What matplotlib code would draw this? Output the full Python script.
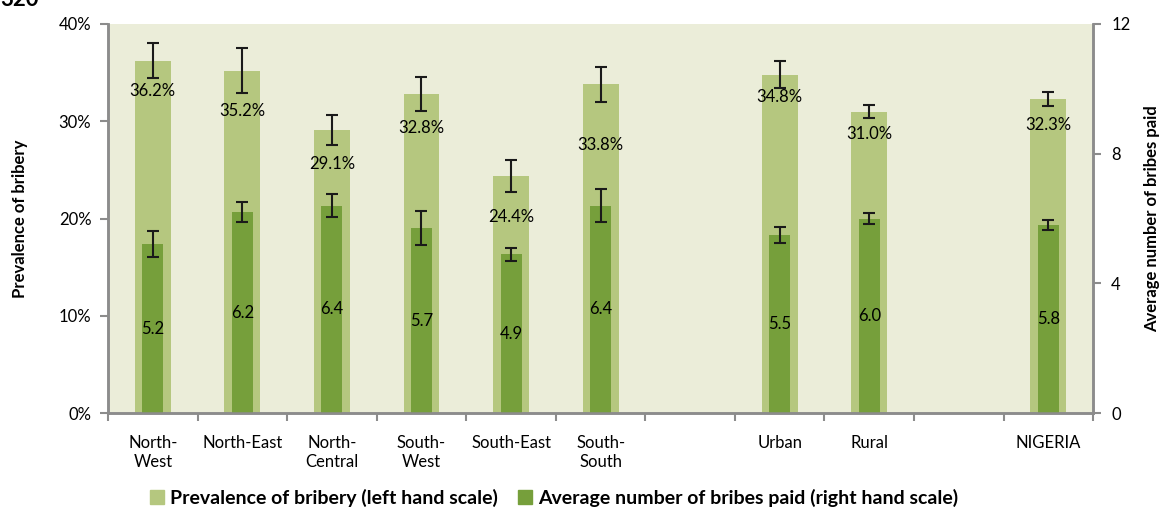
import numpy as np
import matplotlib.pyplot as plt
from matplotlib.patches import Patch

plt.rcParams['font.family'] = ['Lato', 'DejaVu Sans']

# data (blank slots are gaps between groups)
categories = ['North-\nWest', 'North-East', 'North-\nCentral', 'South-\nWest', 'South-East',
              'South-\nSouth', '', 'Urban', 'Rural', '', 'NIGERIA']
prevalence = [36.2, 35.2, 29.1, 32.8, 24.4, 33.8, np.nan, 34.8, 31.0, np.nan, 32.3]
prev_err = [1.8, 2.3, 1.55, 1.7, 1.65, 1.8, np.nan, 1.4, 0.7, np.nan, 0.75]
bribes = [5.2, 6.2, 6.4, 5.7, 4.9, 6.4, np.nan, 5.5, 6.0, np.nan, 5.8]
bribes_err = [0.4, 0.3, 0.35, 0.52, 0.2, 0.5, np.nan, 0.25, 0.17, np.nan, 0.15]
# where the % labels sit (left scale), as in the original
pct_label_y = [33.1, 31.1, 25.6, 29.3, 20.2, 27.6, np.nan, 32.5, 28.7, np.nan, 29.6]

light = '#b5c77f'
dark = '#769f3b'
bg = '#ebedd9'
grey = '#8c8c8c'

x = np.arange(len(categories))

fig = plt.figure(figsize=(11.59, 5.16), dpi=100)
ax = fig.add_axes([0.0932, 0.1996, 0.8500, 0.7539])
ax2 = ax.twinx()

ax.set_facecolor(bg)
ax.bar(x, prevalence, width=0.4, color=light, zorder=2)
ax.errorbar(x, prevalence, yerr=prev_err, fmt='none', ecolor='#1a1a1a',
            elinewidth=1.5, capsize=4.5, capthick=1.5, zorder=3)
for xi, v, ly in zip(x, prevalence, pct_label_y):
    if not np.isnan(v):
        ax.text(xi, ly, f'{v:.1f}%', ha='center', va='center', fontsize=12, zorder=4)

ax2.bar(x, bribes, width=0.235, color=dark, zorder=2)
ax2.errorbar(x, bribes, yerr=bribes_err, fmt='none', ecolor='#1a1a1a',
             elinewidth=1.5, capsize=4.5, capthick=1.5, zorder=3)
for xi, v in zip(x, bribes):
    if not np.isnan(v):
        ax2.text(xi, v / 2, f'{v:.1f}', ha='center', va='center', fontsize=12, zorder=4)

ax.set_xlim(-0.5, len(categories) - 0.5)
ax.set_ylim(0, 40)
ax2.set_ylim(0, 12)
ax.set_yticks([0, 10, 20, 30, 40])
ax.set_yticklabels(['0%', '10%', '20%', '30%', '40%'], fontsize=12)
ax2.set_yticks([0, 4, 8, 12])
ax2.set_yticklabels(['0', '4', '8', '12'], fontsize=12)

ax.set_xticks(x)
ax.set_xticklabels(categories, fontsize=12, linespacing=1.25)
ax.tick_params(axis='x', length=0, pad=16)
ax.set_xticks(np.arange(-0.5, len(categories)), minor=True)
ax.tick_params(axis='x', which='minor', length=6, width=1.5, color=grey)
ax.tick_params(axis='y', length=6, width=1.5, color=grey, pad=6)
ax2.tick_params(axis='y', length=6, width=1.5, color=grey, pad=7)

for a in (ax, ax2):
    a.spines['top'].set_visible(False)
    for s in ('left', 'right', 'bottom'):
        a.spines[s].set_color(grey)
        a.spines[s].set_linewidth(1.8)

ax.set_ylabel('Prevalence of bribery', fontsize=12, fontweight='bold', labelpad=22)
ax2.set_ylabel('Average number of bribes paid', fontsize=12, fontweight='bold', labelpad=10)

handles = [Patch(color=light, label='Prevalence of bribery (left hand scale)'),
           Patch(color=dark, label='Average number of bribes paid (right hand scale)')]
fig.legend(handles=handles, loc='center', bbox_to_anchor=(0.478, 0.035), ncol=2,
           frameon=False, prop={'weight': 'bold', 'size': 14},
           handlelength=0.75, handleheight=0.75, handletextpad=0.3, columnspacing=1.0)

fig.text(0.0, 1.0, '320', fontsize=16, fontweight='bold', va='center', ha='left')

fig.savefig('out.png', dpi=100)
